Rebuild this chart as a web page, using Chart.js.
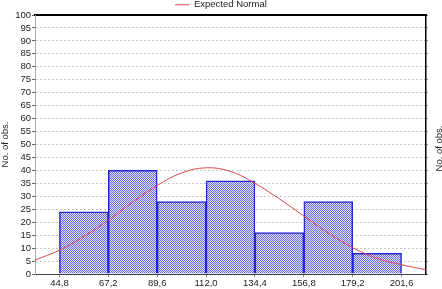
<!DOCTYPE html>
<html>
<head>
<meta charset="utf-8">
<script src="https://cdn.jsdelivr.net/npm/chart.js@4"></script>
<style>
  html, body { margin: 0; padding: 0; background: #fff; }
  #wrap { width: 442px; height: 289px; position: relative; }
</style>
</head>
<body>
<div id="wrap"><canvas id="hist"></canvas></div>
<script>
// histogram bins (edges) and counts
const binEdges = [44.8, 67.2, 89.6, 112.0, 134.4, 156.8, 179.2, 201.6];
const binCounts = [24, 40, 28, 36, 16, 28, 8];

// expected normal curve
const curveX = [33.6, 44.8, 56.0, 67.2, 78.4, 89.6, 100.8, 112.0, 123.2, 134.4, 145.6, 156.8, 168.0, 179.2, 190.4, 201.6, 212.8];
const curveY = [5.4, 9.2, 14.5, 20.8, 27.8, 34.2, 39.0, 41.0, 39.6, 35.0, 29.0, 22.4, 15.8, 10.2, 6.0, 3.6, 1.6];

const xTicks = [44.8, 67.2, 89.6, 112.0, 134.4, 156.8, 179.2, 201.6];
const xMin = 33.6, xMax = 212.8;
const yMin = 0, yMax = 100, yStep = 5;
const yTitle = 'No. of obs.';

const font = { family: 'Liberation Sans, Arial, sans-serif', size: 9.5 };

function dotPattern(ctx) {
    const c = document.createElement('canvas');
    c.width = 2; c.height = 2;
    const g = c.getContext('2d');
    g.fillStyle = '#e2e2fb';
    g.fillRect(0, 0, 2, 2);
    g.fillStyle = '#6a6ae2';
    g.fillRect(0, 0, 1, 1);
    g.fillRect(1, 1, 1, 1);
    return ctx.createPattern(c, 'repeat');
}

// right-hand axis title, rotated the same way as the left one
const rightTitle = {
    id: 'rightTitle',
    afterDraw(chart) {
        const s = chart.scales.yRight;
        const c = chart.ctx;
        c.save();
        c.translate(s.right - 3, (s.top + s.bottom) / 2 + 4);
        c.rotate(-Math.PI / 2);
        c.font = font.size + 'px ' + font.family;
        c.fillStyle = '#222';
        c.textAlign = 'center';
        c.textBaseline = 'middle';
        c.fillText(yTitle, 0, 0);
        c.restore();
    }
};

// legend box is a bit tall by default, trim it so the plot starts near the top
const tightLegend = {
    id: 'tightLegend',
    afterInit(chart) {
        const lg = chart.legend;
        if (!lg) return;
        const orig = lg.fit;
        lg.fit = function () { orig.call(this); this.height = 14; };
    }
};

const canvas = document.getElementById('hist');
const ctx = canvas.getContext('2d');

const barData = binCounts.map((n, i) => ({ x: (binEdges[i] + binEdges[i + 1]) / 2, y: n }));
const curveData = curveX.map((x, i) => ({ x: x, y: curveY[i] }));

new Chart(ctx, {
    data: {
        datasets: [
            {
                type: 'line',
                label: 'Expected Normal',
                data: curveData,
                borderColor: '#e04848',
                borderWidth: 1,
                pointRadius: 0,
                tension: 0.4,
                fill: false,
                order: 0
            },
            {
                type: 'bar',
                label: 'obs',
                data: barData,
                backgroundColor: dotPattern(ctx),
                borderColor: '#2626d8',
                borderWidth: 1.5,
                borderSkipped: 'bottom',
                barPercentage: 1,
                categoryPercentage: 1,
                order: 1
            }
        ]
    },
    plugins: [rightTitle, tightLegend],
    options: {
        responsive: true,
        maintainAspectRatio: false,
        animation: false,
        layout: { padding: 0 },
        plugins: {
            legend: {
                position: 'top',
                labels: {
                    filter: item => item.text === 'Expected Normal',
                    usePointStyle: true,
                    pointStyle: 'line',
                    pointStyleWidth: 14,
                    boxHeight: 6,
                    padding: 0,
                    color: '#222',
                    font: font
                }
            },
            tooltip: { enabled: false }
        },
        scales: {
            x: {
                type: 'linear',
                position: 'bottom',
                offset: false,
                min: xMin,
                max: xMax,
                afterBuildTicks: s => { s.ticks = xTicks.map(v => ({ value: v })); },
                afterFit: s => { s.height = 15; },
                ticks: {
                    color: '#222',
                    font: font,
                    padding: 1,
                    maxRotation: 0,
                    autoSkip: false,
                    callback: v => Number(v).toFixed(1).replace('.', ',')
                },
                grid: { drawOnChartArea: false, tickLength: 3, color: '#888', offset: false },
                border: { color: '#444', width: 1 }
            },
            xTop: {
                type: 'linear',
                position: 'top',
                offset: false,
                min: xMin,
                max: xMax,
                afterBuildTicks: s => { s.ticks = xTicks.map(v => ({ value: v })); },
                afterFit: s => { s.height = 1; },
                ticks: { display: false },
                grid: { drawOnChartArea: false, drawTicks: false, offset: false },
                border: { color: '#000', width: 2 }
            },
            y: {
                position: 'left',
                min: yMin,
                max: yMax,
                afterFit: s => { s.width = 35; },
                ticks: { stepSize: yStep, maxTicksLimit: 30, autoSkip: false, color: '#222', font: font, padding: 1 },
                grid: {
                    color: c2 => (c2.tick && (c2.tick.value === 0 || c2.tick.value === 100)) ? 'rgba(0,0,0,0)' : '#c8c8c8',
                    tickColor: '#666',
                    tickLength: 3,
                    lineWidth: 1
                },
                border: { dash: [2, 2], color: '#aaa', width: 1 },
                title: { display: true, text: yTitle, color: '#222', font: font, padding: 0 }
            },
            yRight: {
                position: 'right',
                min: yMin,
                max: yMax,
                afterFit: s => { s.width = 16; },
                ticks: { display: false, stepSize: yStep, maxTicksLimit: 30 },
                grid: { drawOnChartArea: false, tickLength: 2, color: '#888' },
                border: { color: '#000', width: 1.5 }
            }
        }
    }
});
</script>
</body>
</html>
